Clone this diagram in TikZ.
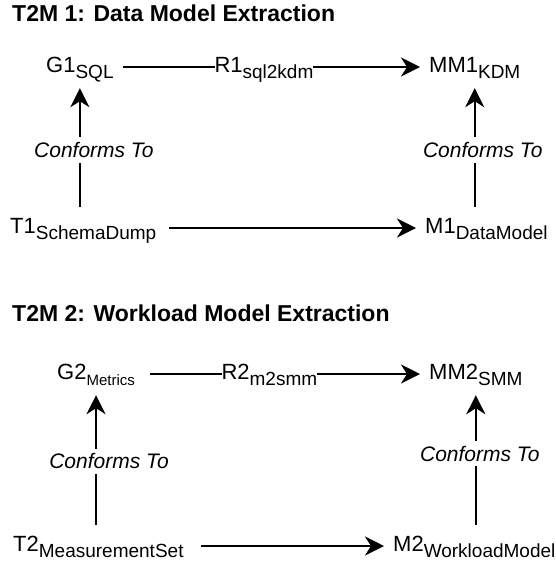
\documentclass[tikz,border=0pt]{standalone}
\usepackage{fontspec}
\setmainfont{Liberation Sans}
\usetikzlibrary{arrows.meta,positioning,calc}

% lowered, smaller part of a model name
\newcommand{\lowsub}[2][19]{\raisebox{-6pt}{\fontsize{#1}{#1}\selectfont #2}}

\begin{document}
\begin{tikzpicture}[x=1pt,y=-1pt,
		title/.style={anchor=base west, inner sep=0pt, font=\fontsize{23}{27}\selectfont\bfseries},
		model/.style={anchor=base west, inner xsep=9pt, inner ysep=10pt, text height=16pt, text depth=6pt, font=\fontsize{22}{26}\selectfont},
		rel/.style={fill=white, inner sep=0pt, text height=16pt, text depth=6pt, font=\fontsize{22}{26}\selectfont},
		conf/.style={fill=white, inner xsep=2pt, inner ysep=5pt, font=\fontsize{21}{25}\selectfont\itshape},
		link/.style={line width=2.3pt, -{Stealth[length=19pt,width=19pt,inset=6pt]}}]
			\useasboundingbox (0,0) rectangle (556,566);
			
			% T2M 1
			\node[title] (title1) at (12,21) {T2M 1: Data Model Extraction};
			\node[model] (G1) at (37,72) {G1\lowsub{SQL}};
			\node[model] (MM1) at (420,72) {MM1\lowsub{KDM}};
			\node[model] (T1) at (1,233) {T1\lowsub{SchemaDump}};
			\node[model] (M1) at (416,233) {M1\lowsub{DataModel}};
			
			\draw[link] (G1) -- node[rel, pos=0.475] {R1\lowsub{sql2kdm}} (MM1);
			\draw[link, shorten <=4pt] (T1) -- (M1);
			\draw[link] (T1.north -| G1.south) -- node[conf, pos=0.48, xshift=14pt] {Conforms To} (G1.south);
			\draw[link] (M1.north -| MM1.south) -- node[conf, pos=0.48, xshift=8pt] {Conforms To} (MM1.south);
			
			% T2M 2
			\node[title] (title2) at (12,321) {T2M 2: Workload Model Extraction};
			\node[model] (G2) at (48,379) {G2\lowsub[15]{Metrics}};
			\node[model] (MM2) at (420,379) {MM2\lowsub{SMM}};
			\node[model] (T2) at (4,551) {T2\lowsub{MeasurementSet}};
			\node[model] (M2) at (384,551) {M2\lowsub{WorkloadModel}};
			
			\draw[link, shorten <=6pt] (G2) -- node[rel, pos=0.454] {R2\lowsub{m2smm}} (MM2);
			\draw[link, shorten <=8pt] (T2) -- (M2);
			\draw[link] (T2.north -| G2.south) -- node[conf, pos=0.49, xshift=13pt] {Conforms To} (G2.south);
			\draw[link] (M2.north -| MM2.south) -- node[conf, pos=0.55, xshift=4pt] {Conforms To} (MM2.south);
		\end{tikzpicture}
\end{document}
